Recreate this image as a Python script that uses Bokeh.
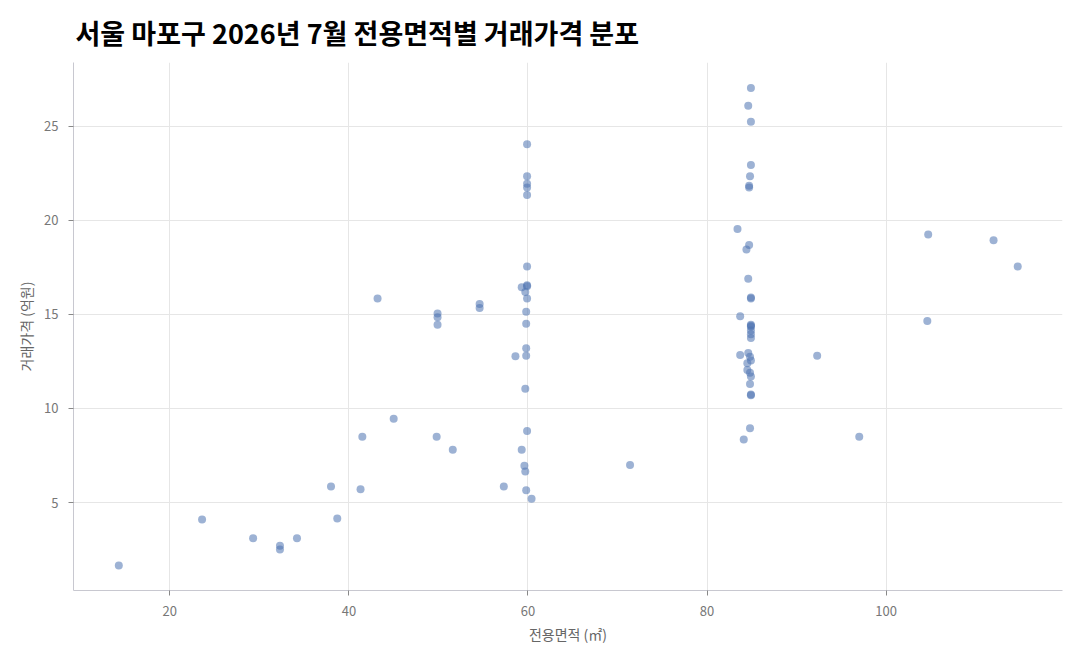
from bokeh.plotting import figure
from bokeh.models import FixedTicker, Range1d
from bokeh.embed import file_html
from bokeh.resources import INLINE

area = [14.3, 23.6, 29.3, 32.3, 32.3, 34.2, 38.0, 38.7, 41.3, 41.5, 43.2, 45.0,
        49.9, 49.9, 49.9, 49.8, 51.6, 54.6, 54.6, 57.3, 58.6, 59.3, 59.6, 59.7,
        59.8, 60.4, 59.9, 59.7, 59.8, 59.8, 59.8, 59.8, 59.9, 59.7, 59.3, 59.9,
        59.9, 59.9, 59.9, 59.9, 59.9, 59.9, 59.9, 71.4,
        84.9, 84.6, 84.9, 84.9, 84.8, 84.7, 84.7, 83.4, 84.7, 84.4, 84.6, 84.9,
        84.9, 83.7, 84.9, 84.9, 84.9, 84.9, 84.9, 84.9, 84.6, 83.7, 84.8, 84.9,
        84.5, 84.5, 84.8, 84.9, 84.8, 84.9, 84.9, 84.8, 84.1,
        92.3, 97.0, 104.7, 104.6, 112.0, 114.7]
price = [1.65, 4.1, 3.1, 2.7, 2.5, 3.1, 5.85, 4.15, 5.7, 8.5, 15.85, 9.45,
         15.05, 14.85, 14.45, 8.5, 7.8, 15.55, 15.35, 5.85, 12.78, 7.8, 6.95, 6.65,
         5.65, 5.2, 8.8, 11.05, 13.2, 12.8, 14.5, 15.15, 15.85, 16.2, 16.45, 16.55,
         16.5, 17.55, 21.35, 21.75, 21.95, 22.35, 24.05, 7.0,
         27.05, 26.1, 25.25, 22.95, 22.35, 21.85, 21.75, 19.55, 18.7, 18.45, 16.9, 15.9,
         15.85, 14.9, 14.45, 14.4, 14.35, 14.15, 13.95, 13.75, 12.95, 12.85, 12.75, 12.55,
         12.4, 12.05, 11.9, 11.7, 11.3, 10.75, 10.7, 8.95, 8.35,
         12.8, 8.5, 19.25, 14.65, 18.95, 17.55]
x_ticks = [20, 40, 60, 80, 100]
y_ticks = [5, 10, 15, 20, 25]

FONT = "Noto Sans CJK KR"

p = figure(width=1072, height=652, output_backend="svg", toolbar_location=None,
           x_range=Range1d(9.24, 119.7), y_range=Range1d(0.32, 28.4),
           title="서울 마포구 2026년 7월 전용면적별 거래가격 분포",
           min_border_left=73, min_border_right=10, min_border_top=62, min_border_bottom=62)

p.title.text_font = FONT
p.title.text_font_size = "27px"
p.title.text_font_style = "bold"
p.title.text_color = "#000000"
p.title.offset = 2
p.title.standoff = 21

p.scatter(area, price, size=8, color="#4C72B0", alpha=0.55, line_color=None)

p.outline_line_color = None
p.xgrid.grid_line_color = "#e6e6e6"
p.ygrid.grid_line_color = "#e6e6e6"
p.xaxis.ticker = FixedTicker(ticks=x_ticks)
p.yaxis.ticker = FixedTicker(ticks=y_ticks)
for ax in (p.xaxis[0], p.yaxis[0]):
    ax.axis_line_color = "#c8c8d0"
    ax.major_tick_line_color = "#888888"
    ax.major_tick_out = 5
    ax.major_tick_in = 0
    ax.minor_tick_line_color = None
    ax.major_label_text_font = FONT
    ax.major_label_text_font_size = "13px"
    ax.major_label_text_color = "#777777"
    ax.axis_label_text_font = FONT
    ax.axis_label_text_font_size = "14px"
    ax.axis_label_text_color = "#666666"
    ax.axis_label_text_font_style = "normal"
p.xaxis.major_label_standoff = 10
p.yaxis.major_label_standoff = 10
p.xaxis.axis_label = "전용면적 (㎡)"
p.yaxis.axis_label = "거래가격 (억원)"

open("out.html", "w").write(file_html(p, INLINE))
